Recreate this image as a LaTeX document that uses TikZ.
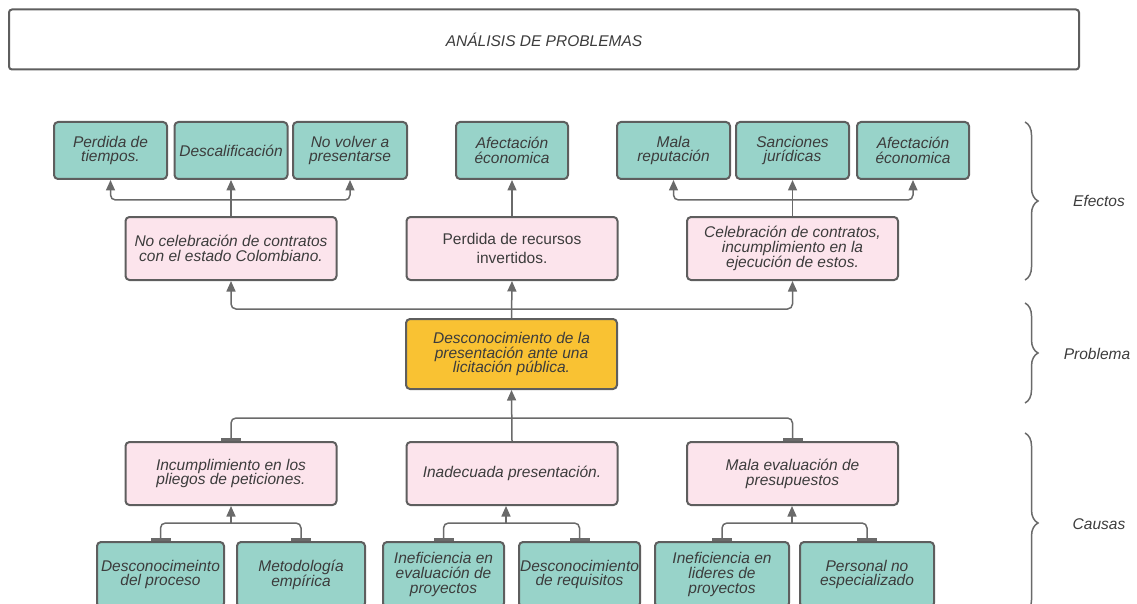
\documentclass[tikz,border=0pt]{standalone}
\usepackage{fontspec}
\setmainfont{Liberation Sans}
\usetikzlibrary{arrows.meta,decorations.pathreplacing}
\lineskiplimit=-30pt

\definecolor{effteal}{HTML}{98D3C9}
\definecolor{softpink}{HTML}{FCE4EC}
\definecolor{probyellow}{HTML}{F9C233}
\definecolor{edgegrey}{HTML}{5E5E5E}
\definecolor{linegrey}{HTML}{6A6A6A}
\definecolor{txtgrey}{HTML}{3C3C3C}

\begin{document}
\begin{tikzpicture}[x=1pt,y=-1pt,
  box/.style={draw=edgegrey, line width=2pt, rounded corners=4pt, inner sep=0pt,
    align=center, text=txtgrey, font=\fontsize{15.5}{14.8}\selectfont\itshape},
  effbox/.style={box, fill=effteal, minimum height=57pt},
  pinkbox/.style={box, fill=softpink, minimum width=211pt, minimum height=63pt},
  causebox/.style={box, fill=effteal, minimum height=65pt},
  probbox/.style={box, fill=probyellow, minimum width=211pt, minimum height=70pt},
  conn/.style={draw=linegrey, line width=1.5pt, rounded corners=5pt},
  arr/.style={conn, -{Triangle[length=10.5pt,width=9pt]}},
  tee/.style={conn, {Bar[width=20pt,line width=3pt]}-},
  sidebrace/.style={draw=linegrey, line width=1.5pt, decorate,
    decoration={brace, amplitude=13pt}},
  sidelabel/.style={text=txtgrey, font=\fontsize{15.5}{15.5}\selectfont\itshape}
]
\useasboundingbox (0,0) rectangle (1137,604);
\clip (0,0) rectangle (1137,604);

% title bar
\node[box, fill=white, rounded corners=3pt, minimum width=1070pt, minimum height=60pt]
  (title) at (544,39.5) {ANÁLISIS DE PROBLEMAS};

% effects (top row)
\node[effbox, minimum width=113pt] (t1) at (110.5,150.5) {Perdida de\\tiempos.};
\node[effbox, minimum width=113pt] (t2) at (231,150.5) {Descalificación};
\node[effbox, minimum width=114pt] (t3) at (350,150.5) {No volver a\\presentarse};
\node[effbox, minimum width=112pt] (t4) at (512,150.5) {Afectación\\économica};
\node[effbox, minimum width=113pt] (t5) at (673.5,150.5) {Mala\\reputación};
\node[effbox, minimum width=113pt] (t6) at (792.5,150.5) {Sanciones\\jurídicas};
\node[effbox, minimum width=112pt] (t7) at (913,150.5) {Afectación\\économica};

% direct effects
\node[pinkbox] (p1) at (231,248.5) {No celebración de contratos\\con el estado Colombiano.};
\node[pinkbox, font=\fontsize{15.5}{19}\selectfont\upshape] (p2) at (512,248.5)
  {Perdida de recursos\\invertidos.};
\node[pinkbox] (p3) at (792.5,248.5) {Celebración de contratos,\\incumplimiento en la\\ejecución de estos.};

% central problem
\node[probbox] (prob) at (511.5,354) {Desconocimiento de la\\presentación ante una\\licitación pública.};

% direct causes
\node[pinkbox] (c1) at (231,473.5) {Incumplimiento en los\\pliegos de peticiones.};
\node[pinkbox] (c2) at (512,473.5) {Inadecuada presentación.};
\node[pinkbox] (c3) at (792.5,473.5) {Mala evaluación de\\presupuestos};

% root causes (bottom row)
\node[causebox, minimum width=127pt] (b1) at (160.5,574.5) {Desconocimeinto\\del proceso};
\node[causebox, minimum width=128pt] (b2) at (301,574.5) {Metodología\\empírica};
\node[causebox, minimum width=121pt] (b3) at (443.5,574.5) {Ineficiencia en\\evaluación de\\proyectos};
\node[causebox, minimum width=121pt] (b4) at (579.5,574.5) {Desconocimiento\\de requisitos};
\node[causebox, minimum width=134pt] (b5) at (722,574.5) {Ineficiencia en\\lideres de\\proyectos};
\node[causebox, minimum width=134pt] (b6) at (867,574.5) {Personal no\\especializado};

% junction points
\coordinate (k1) at (231,200);
\coordinate (k3) at (792.5,200);
\coordinate (je) at (512,309);
\coordinate (jc) at (512,418);
\coordinate (j1) at (231,523);
\coordinate (j2) at (506,523);
\coordinate (j3) at (792,523);

% effects fan-out
\draw[arr] (p1.north) -- (t2.south);
\draw[arr] (k1) -| (t1.south);
\draw[arr] (k1) -| (t3.south);
\draw[arr] (p2.north) -- (t4.south);
\draw[arr] (p3.north) -- (t6.south);
\draw[arr] (k3) -| (t5.south);
\draw[arr] (k3) -| (t7.south);

% problem to effects
\draw[arr] (prob.north) -- (p2.south);
\draw[arr] (je) -| (p1.south);
\draw[arr] (je) -| (p3.south);

% causes to problem
\draw[arr] (c2.north) -- (prob.south);
\draw[tee] (c1.north) |- (jc);
\draw[tee] (c3.north) |- (jc);

% root causes to causes
\draw[tee] (b1.north) |- (j1);
\draw[tee] (b2.north) |- (j1);
\draw[arr] (j1) -- (c1.south);
\draw[tee] (b3.north) |- (j2);
\draw[tee] (b4.north) |- (j2);
\draw[arr] (j2) -- (j2 |- c2.south);
\draw[tee] (b5.north) |- (j3);
\draw[tee] (b6.north) |- (j3);
\draw[arr] (j3) -- (j3 |- c3.south);

% level braces and labels
\draw[sidebrace] (1025,122) -- (1025,280);
\draw[sidebrace] (1025,303) -- (1025,403);
\draw[sidebrace] (1025,433) -- (1025,613);
\node[sidelabel] (lef) at (1099,201) {Efectos};
\node[sidelabel] (lpr) at (1097,354) {Problema};
\node[sidelabel] (lca) at (1099,524) {Causas};
\end{tikzpicture}
\end{document}
